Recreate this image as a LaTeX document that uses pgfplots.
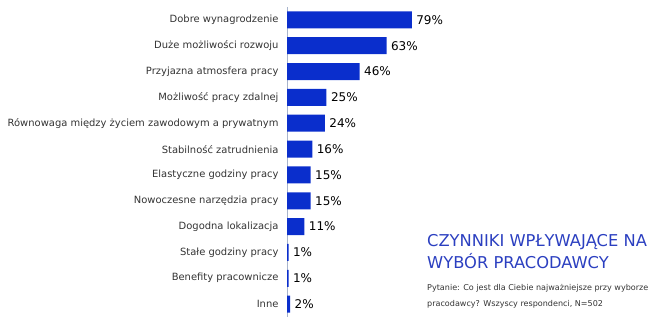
\documentclass[border=0pt]{standalone}
\usepackage{fontspec}
\setmainfont{DejaVu Sans}
\usepackage{pgfplots}
\pgfplotsset{compat=1.18}
\definecolor{barblue}{HTML}{0A2ECC}
\definecolor{titleblue}{HTML}{2B3FC0}
\definecolor{labgray}{HTML}{333333}
\definecolor{axisgray}{HTML}{A8B4CC}
\begin{document}
\begin{tikzpicture}[x=1pt,y=1pt]
\path[use as bounding box] (0,0) rectangle (655,320);
\begin{axis}[
  at={(287pt,3pt)}, anchor=south west,
  scale only axis, width=200pt, height=310pt,
  xbar, bar width=17pt,
  xmin=0, xmax=126.6,
  ymin=-0.5, ymax=11.5, y dir=reverse,
  axis x line=none, axis y line=left,
  y axis line style={-, color=axisgray, line width=0.8pt},
  ytick={0,...,11},
  yticklabels={Dobre wynagrodzenie, Duże możliwości rozwoju, Przyjazna atmosfera pracy, Możliwość pracy zdalnej, Równowaga między życiem zawodowym a prywatnym, Stabilność zatrudnienia, Elastyczne godziny pracy, Nowoczesne narzędzia pracy, Dogodna lokalizacja, Stałe godziny pracy, Benefity pracownicze, Inne},
  major tick length=0pt,
  yticklabel style={font=\fontsize{9.95}{12}\selectfont, text=labgray, xshift=-5pt},
  /pgf/number format/assume math mode=true,
  nodes near coords={\pgfmathprintnumber{\pgfplotspointmeta}\%},
  point meta=x,
  every node near coord/.append style={font=\fontsize{12}{14}\selectfont, text=black, anchor=west, xshift=1pt},
  clip=false,
]
\addplot[fill=barblue, draw=none] coordinates {
(79,0) (63,1) (46,2) (25,3) (24,4) (16,5) (15,6) (15,7) (11,8) (1,9) (1,10) (2,11)};
\end{axis}
\node[anchor=base west, text=titleblue, font=\fontsize{16.3}{19}\selectfont, inner sep=0] at (427,73) {CZYNNIKI WPŁYWAJĄCE NA};
\node[anchor=base west, text=titleblue, font=\fontsize{16.3}{19}\selectfont, inner sep=0] at (427,51) {WYBÓR PRACODAWCY};
\node[anchor=base west, text=labgray, font=\fontsize{8.05}{10}\selectfont, inner sep=0] at (427,29) {Pytanie: Co jest dla Ciebie najważniejsze przy wyborze};
\node[anchor=base west, text=labgray, font=\fontsize{8.05}{10}\selectfont, inner sep=0] at (427,13) {pracodawcy? Wszyscy respondenci, N=502};
\end{tikzpicture}
\end{document}
